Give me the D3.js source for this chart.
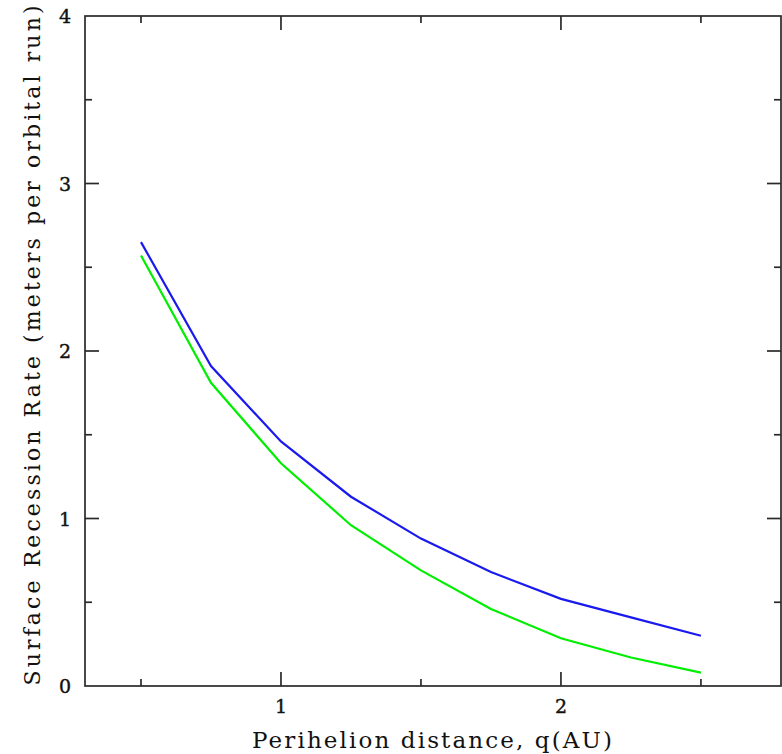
<!DOCTYPE html>
<html>
<head>
<meta charset="utf-8">
<script src="https://cdn.jsdelivr.net/npm/d3@7"></script>
<style>
  body { margin: 0; background: #fff; }
  svg text { font-family: "DejaVu Serif", serif; fill: #111; }
</style>
</head>
<body>
<svg width="782" height="754"></svg>
<script>
// perihelion distance q (AU)
var qValues = [0.5, 0.75, 1.0, 1.25, 1.5, 1.75, 2.0, 2.25, 2.5];
// surface recession rate, two runs
var blueRate  = [2.65, 1.91, 1.46, 1.13, 0.88, 0.68, 0.52, 0.41, 0.30];
var greenRate = [2.57, 1.81, 1.33, 0.96, 0.69, 0.46, 0.285, 0.17, 0.08];
var xMajor = [1, 2];
var xMinor = [0.5, 1.5, 2.5];
var yMajor = [0, 1, 2, 3, 4];
var yMinor = [0.5, 1.5, 2.5, 3.5];

var svg = d3.select("svg");
// plot box edges (don't call it "top", that's window.top)
var pLeft = 85, pRight = 781, pTop = 16, pBottom = 686;

var x = d3.scaleLinear().domain([0.3, 2.786]).range([pLeft, pRight]);
var y = d3.scaleLinear().domain([0, 4]).range([pBottom, pTop]);

var axisColor = "#2a2a2a";

// frame
svg.append("rect")
  .attr("x", pLeft).attr("y", pTop)
  .attr("width", pRight - pLeft).attr("height", pBottom - pTop)
  .attr("fill", "none").attr("stroke", axisColor).attr("stroke-width", 1.7);

// ticks, all pointing inward on all four sides
function xTicks(vals, len) {
  vals.forEach(function(v) {
    svg.append("line").attr("x1", x(v)).attr("x2", x(v))
      .attr("y1", pBottom).attr("y2", pBottom - len)
      .attr("stroke", axisColor).attr("stroke-width", 1.7);
    svg.append("line").attr("x1", x(v)).attr("x2", x(v))
      .attr("y1", pTop).attr("y2", pTop + len)
      .attr("stroke", axisColor).attr("stroke-width", 1.7);
  });
}
function yTicks(vals, len) {
  vals.forEach(function(v) {
    svg.append("line").attr("x1", pLeft).attr("x2", pLeft + len)
      .attr("y1", y(v)).attr("y2", y(v))
      .attr("stroke", axisColor).attr("stroke-width", 1.7);
    svg.append("line").attr("x1", pRight).attr("x2", pRight - len)
      .attr("y1", y(v)).attr("y2", y(v))
      .attr("stroke", axisColor).attr("stroke-width", 1.7);
  });
}
xTicks(xMajor, 14);
xTicks(xMinor, 7);
yTicks(yMajor.slice(1, 4), 14);
yTicks(yMinor, 7);

// tick labels
svg.selectAll(".xl").data(xMajor).enter().append("text")
  .attr("x", function(d) { return x(d); })
  .attr("y", pBottom + 27)
  .attr("text-anchor", "middle")
  .attr("font-size", 19)
  .attr("stroke", "#111").attr("stroke-width", 0.4)
  .text(function(d) { return d; });

svg.selectAll(".yl").data(yMajor).enter().append("text")
  .attr("x", pLeft - 20)
  .attr("y", function(d) { return y(d) + 7; })
  .attr("text-anchor", "middle")
  .attr("font-size", 19)
  .attr("stroke", "#111").attr("stroke-width", 0.4)
  .text(function(d) { return d; });

// axis titles
svg.append("text")
  .attr("x", 432).attr("y", 748)
  .attr("text-anchor", "middle")
  .attr("font-size", 23)
  .attr("textLength", 360)
  .attr("lengthAdjust", "spacing")
  .text("Perihelion distance, q(AU)");

svg.append("text")
  .attr("transform", "translate(40,345.5) rotate(-90)")
  .attr("text-anchor", "middle")
  .attr("font-size", 22)
  .attr("textLength", 680)
  .attr("lengthAdjust", "spacing")
  .text("Surface Recession Rate (meters per orbital run)");

// curves
var line = d3.line()
  .x(function(d) { return x(d[0]); })
  .y(function(d) { return y(d[1]); });

svg.append("path")
  .datum(d3.zip(qValues, greenRate))
  .attr("d", line)
  .attr("fill", "none").attr("stroke", "#00ee00").attr("stroke-width", 2.2);

svg.append("path")
  .datum(d3.zip(qValues, blueRate))
  .attr("d", line)
  .attr("fill", "none").attr("stroke", "#1a1aee").attr("stroke-width", 2.2);
</script>
</body>
</html>
